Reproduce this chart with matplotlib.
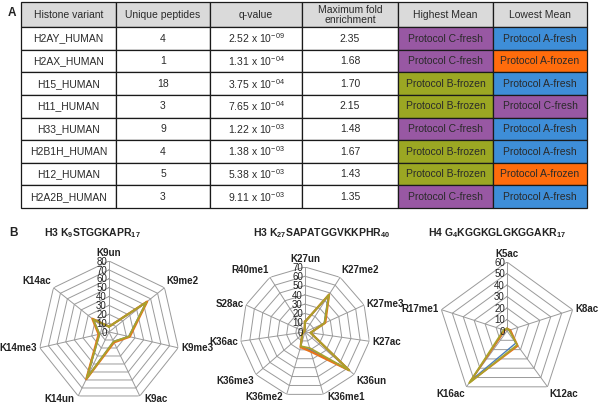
import numpy as np
import matplotlib
matplotlib.use("Agg")
import matplotlib.pyplot as plt
from matplotlib.transforms import offset_copy

plt.rcParams.update({
    "font.family": "Liberation Sans",
    "mathtext.fontset": "custom",
    "mathtext.rm": "Liberation Sans",
    "mathtext.bf": "Liberation Sans:bold",
    "text.color": "#222222",
})

# ---- panel A: table data ----
header = ["Histone variant", "Unique peptides", "q-value",
          "Maximum fold\nenrichment", "Highest Mean", "Lowest Mean"]
variants = ["H2AY_HUMAN", "H2AX_HUMAN", "H15_HUMAN", "H11_HUMAN",
            "H33_HUMAN", "H2B1H_HUMAN", "H12_HUMAN", "H2A2B_HUMAN"]
peptides = [4, 1, 18, 3, 9, 4, 5, 3]
q_mant = [2.52, 1.31, 3.75, 7.65, 1.22, 1.38, 5.38, 9.11]
q_exp = [-9, -4, -4, -4, -3, -3, -3, -3]
fold = [2.35, 1.68, 1.70, 2.15, 1.48, 1.67, 1.43, 1.35]
highest = ["C-fresh", "C-fresh", "B-frozen", "B-frozen",
           "C-fresh", "B-frozen", "B-frozen", "C-fresh"]
lowest = ["A-fresh", "A-frozen", "A-fresh", "C-fresh",
          "A-fresh", "A-fresh", "A-frozen", "A-fresh"]

PROTO_C = {"A-fresh": "#3E8ED8", "A-frozen": "#FF6C0C",
           "B-frozen": "#9BA723", "C-fresh": "#9858A3"}
HEAD_C = "#DADADA"

# ---- panel B: radar data ----
r1_axes = ["K9un", "K9me2", "K9me3", "K9ac", "K14un", "K14me3", "K14ac"]
r1_blue = [6, 54, 23, 12, 58, 11, 23]
r1_orange = [6, 55, 24, 13, 59, 12, 24]
r1_olive = [6, 54, 23, 12, 58, 11, 23]

r2_axes = ["K27un", "K27me2", "K27me3", "K27ac", "K36un", "K36me1",
           "K36me2", "K36me3", "K36ac", "S28ac", "R40me1"]
r2_blue = [11, 47, 23, 6, 63, 20, 16, 4, 2, 1, 1]
r2_orange = [11, 48, 24, 6, 63, 22, 17, 4, 2, 1, 1]
r2_olive = [11, 48, 23, 6, 63, 18, 16, 4, 2, 1, 1]

r3_axes = ["K5ac", "K8ac", "K12ac", "K16ac", "R17me1"]
r3_blue = [2, 3, 13, 53, 2]
r3_orange = [2, 3, 16, 55, 2]
r3_olive = [2, 2, 15, 56, 3]

BLUE, ORANGE, OLIVE = "#4A7EBB", "#E8731C", "#A9A22C"
GRID = "#9A9A9A"

W, H = 600, 403
fig = plt.figure(figsize=(6, 4.03), dpi=100)


def px_axes(x0, y0, x1, y1, **kw):
    # figure axes from pixel box (top-left origin)
    return fig.add_axes([x0 / W, 1 - y1 / H, (x1 - x0) / W, (y1 - y0) / H], **kw)


# ---- table ----
ax_t = px_axes(21, 2, 587, 208)
ax_t.axis("off")
cells, colours = [], []
for i in range(len(variants)):
    q = f"{q_mant[i]:.2f} x 10$^{{\\mathregular{{-{abs(q_exp[i]):02d}}}}}$"
    cells.append([variants[i], str(peptides[i]), q, f"{fold[i]:.2f}",
                  "Protocol " + highest[i], "Protocol " + lowest[i]])
    colours.append(["white"] * 4 + [PROTO_C[highest[i]], PROTO_C[lowest[i]]])

tbl = ax_t.table(cellText=cells, colLabels=header, cellColours=colours,
                 colColours=[HEAD_C] * 6, colWidths=[95, 94, 92, 96, 95, 94],
                 cellLoc="center", bbox=[0, 0, 1, 1])
tbl.auto_set_font_size(False)
tbl.set_fontsize(7.5)
for (r, c), cell in tbl.get_celld().items():
    cell.set_edgecolor("#1a1a1a")
    cell.set_linewidth(0.9)
    cell.get_text().set_color("#2a2a2a")
    if r == 0:
        cell.set_height(cell.get_height() * 1.12)
        cell.get_text().set_linespacing(1.0)

fig.text(8 / W, 1 - 13 / H, "A", fontsize=8.5, fontweight="bold", va="center")
fig.text(9 / W, 1 - 233 / H, "B", fontsize=8.5, fontweight="bold", va="center")


# ---- radars ----
def radar(cx, cy, R, rmax, axes_names, series, title, title_x):
    ax = px_axes(cx - R, cy - R, cx + R, cy + R, projection="polar")
    ax.set_theta_zero_location("N")
    ax.set_theta_direction(-1)
    ax.set_ylim(0, rmax)
    ax.grid(False)
    ax.spines["polar"].set_visible(False)
    ax.set_xticks([])
    ax.set_yticks([])
    ax.patch.set_alpha(0)
    n = len(axes_names)
    ang = np.arange(n) * 2 * np.pi / n
    closed = np.append(ang, ang[0])
    for r in range(10, rmax + 1, 10):
        ax.plot(closed, [r] * (n + 1), color=GRID, lw=0.7, zorder=1)
    for a in ang:
        ax.plot([a, a], [0, rmax], color=GRID, lw=0.7, zorder=1)
    for vals, col, lw in series:
        ax.plot(closed, np.append(vals, vals[0]), color=col, lw=lw, zorder=3)
    # radial numbers along the top spoke
    tr = offset_copy(ax.transData, fig=fig, x=-1.5, y=-0.5, units="points")
    for r in range(0, rmax + 1, 10):
        ax.text(0, r, str(r), transform=tr, ha="right", va="center",
                fontsize=7, color="#222222", zorder=4)
    # category labels at the vertices
    for a, name in zip(ang, axes_names):
        s, c = np.sin(a), np.cos(a)
        ha = "left" if s > 0.05 else ("right" if s < -0.05 else "center")
        if c > 0.5:
            va = "bottom"
        elif c < -0.85:
            va = "center"
        elif c < -0.5:
            va = "top"
        else:
            va = "center"
        dx, dy = 2 * s, 2 * c
        if c < -0.85:
            dx, dy = 3 * np.sign(s), -2
        t = offset_copy(ax.transData, fig=fig, x=dx, y=dy, units="points")
        ax.text(a, rmax, name, transform=t, ha=ha, va=va, fontsize=7,
                fontweight="bold", color="#222222")
    fig.text(title_x / W, 1 - 233 / H, title, ha="center", va="center",
             fontsize=7.5, fontweight="bold")


radar(109, 332, 71, 80, r1_axes,
      [(r1_blue, BLUE, 1.3), (r1_orange, ORANGE, 1.6), (r1_olive, OLIVE, 1.3)],
      r"H3 K$_{\mathbf{9}}$STGGKAPR$_{\mathbf{17}}$", 92)
radar(305, 332, 65, 70, r2_axes,
      [(r2_blue, BLUE, 1.3), (r2_orange, ORANGE, 1.6), (r2_olive, OLIVE, 1.3)],
      r"H3 K$_{\mathbf{27}}$SAPATGGVKKPHR$_{\mathbf{40}}$", 322)
radar(507, 331, 69, 60, r3_axes,
      [(r3_blue, BLUE, 1.0), (r3_orange, ORANGE, 1.3), (r3_olive, OLIVE, 1.3)],
      r"H4 G$_{\mathbf{4}}$KGGKGLGKGGAKR$_{\mathbf{17}}$", 497)

fig.savefig("out.png", dpi=100, facecolor="white")
